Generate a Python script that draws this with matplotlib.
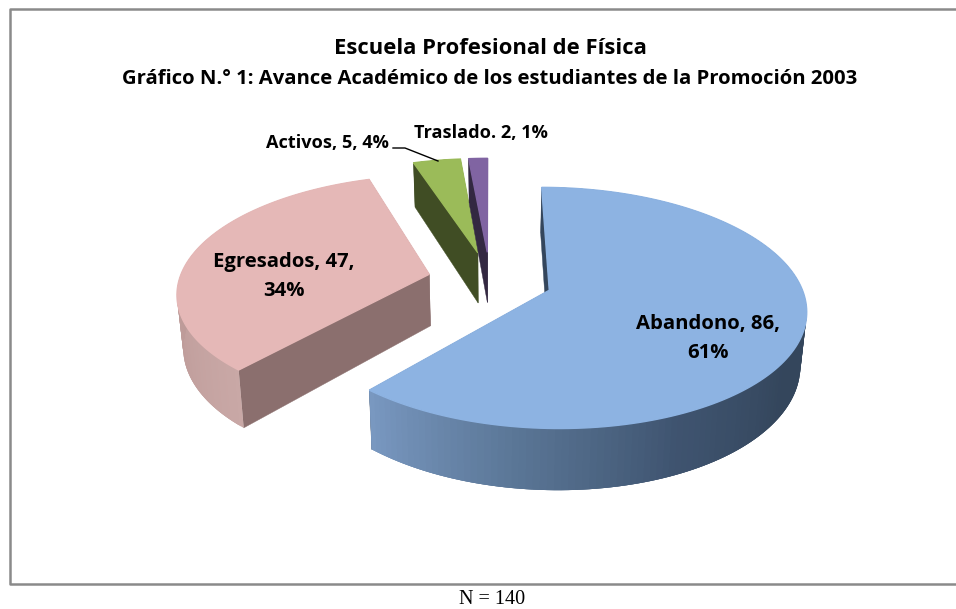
import numpy as np
import matplotlib
matplotlib.use("Agg")
import matplotlib.pyplot as plt
from matplotlib.colors import to_rgb

categories = ["Abandono", "Egresados", "Activos", "Traslado"]
values = [86, 47, 5, 2]
percents = [61, 34, 4, 1]

title_1 = "Escuela Profesional de Física"
title_2 = "Gráfico N.° 1: Avance Académico de los estudiantes de la Promoción 2003"
note = "N = 140"

top_colors = ["#8db3e2", "#e5b8b7", "#9bbb59", "#8064a2"]
radial_colors = ["#34465c", "#8b6f6e", "#404d24", "#332841"]
rim_colors = [["#34465c", "#34465c", "#3f5470", "#5b7797", "#7a99c2"],
              ["#c9a8a6", "#c09e9c", "#bb9896", "#c09e9c", "#c9a8a6"],
              ["#404d24"] * 5,
              ["#332841"] * 5]

# pie geometry, in pixels of the picture
center_x = 490
center_y = 280
radius_x = 250
radius_y = 115
depth = 52
persp = 0.145
explode = 0.25
bottom_shrink = 0.98


def project(X, Z, bottom=False):
    den = 1 + persp * Z
    x = center_x + radius_x * X / den
    y = center_y - radius_y * Z / den
    if bottom:
        x = center_x + (x - center_x) * bottom_shrink
        y = y + depth / den
    return x, y


def mix(colors, t):
    pos = t * (len(colors) - 1)
    i = min(int(pos), len(colors) - 2)
    c0 = np.array(to_rgb(colors[i]))
    c1 = np.array(to_rgb(colors[i + 1]))
    return tuple(c0 + (c1 - c0) * (pos - i))


fig = plt.figure(figsize=(9.56, 6.09), dpi=100)
ax = fig.add_axes([0, 0, 1, 1])
ax.set_xlim(0, 956)
ax.set_ylim(609, 0)
ax.axis("off")

# chart frame, the right side is cut off in the picture
ax.plot([960, 10.5, 10.5, 960], [8.5, 8.5, 583.5, 583.5], color="#8a8a8a", lw=1.8)

total = sum(values)
start = 0.0
for i in range(len(values)):
    sweep = 2 * np.pi * values[i] / total
    end = start + sweep
    mid = (start + end) / 2
    ax_x = explode * np.sin(mid)
    ax_z = explode * np.cos(mid)
    th = np.linspace(start, end, 160)
    X = ax_x + np.sin(th)
    Z = ax_z + np.cos(th)

    # the two flat cut faces
    for a in [start, end]:
        ex = ax_x + np.sin(a)
        ez = ax_z + np.cos(a)
        p = [project(ax_x, ax_z), project(ex, ez), project(ex, ez, True), project(ax_x, ax_z, True)]
        ax.fill([q[0] for q in p], [q[1] for q in p], color=radial_colors[i], lw=0.3, zorder=2 + i)

    # outer rim, strips overlap a bit so no seams show
    for j in range(len(th) - 1):
        k = min(j + 3, len(th) - 1)
        p = [project(X[j], Z[j]), project(X[k], Z[k]),
             project(X[k], Z[k], True), project(X[j], Z[j], True)]
        t = (th[j] - np.pi / 2) / (end - np.pi / 2)
        t = min(max(t, 0), 1)
        if i == 1:
            t = (j + 0.5) / (len(th) - 1)
        c = mix(rim_colors[i], t)
        ax.fill([q[0] for q in p], [q[1] for q in p], color=c, lw=0, zorder=2 + i)

    # top face
    px, py = project(np.r_[ax_x, X], np.r_[ax_z, Z])
    ax.fill(px, py, color=top_colors[i], lw=1.0, zorder=2 + i)
    start = end

font = ["Open Sans", "DejaVu Sans"]
ax.text(490, 48.5, title_1, ha="center", va="center", fontsize=15.8, fontweight="bold", family=font, color="black")
ax.text(490, 79, title_2, ha="center", va="center", fontsize=14.55, fontweight="bold", family=font, color="black")

ax.text(708, 339, f"{categories[0]}, {values[0]},\n{percents[0]}%", ha="center", va="center",
        fontsize=14.6, fontweight="bold", family=font, linespacing=1.6, zorder=10)
ax.text(284, 276, f"{categories[1]}, {values[1]},\n{percents[1]}%", ha="center", va="center",
        fontsize=14.6, fontweight="bold", family=font, linespacing=1.6, zorder=10)
ax.text(327.5, 143, f"{categories[2]}, {values[2]}, {percents[2]}%", ha="center", va="center",
        fontsize=13.1, fontweight="bold", family=font, zorder=10)
ax.text(481, 133, f"{categories[3]}. {values[3]}, {percents[3]}%", ha="center", va="center",
        fontsize=13.1, fontweight="bold", family=font, zorder=10)

# leader line of Activos
ax.plot([393, 405, 438], [148, 148, 161], color="black", lw=1, zorder=10)

ax.text(492, 600, note, ha="center", va="center", fontsize=14.5, family="Liberation Serif")

fig.savefig("out.png", dpi=100)
